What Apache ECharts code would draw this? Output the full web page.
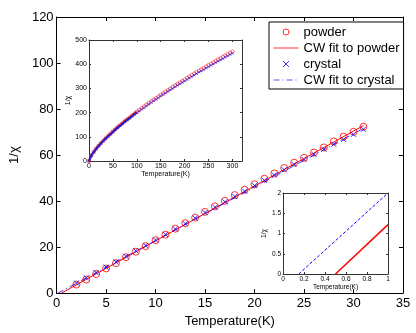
<!DOCTYPE html>
<html>
<head>
<meta charset="utf-8">
<script src="https://cdn.jsdelivr.net/npm/echarts@6/dist/echarts.min.js"></script>
<style>
html,body{margin:0;padding:0;background:#fff;}
#c{width:416px;height:333px;}
</style>
</head>
<body>
<div id="c"></div>
<script>
// ---- data ----
const mainT = [2,3,4,5,6,7,8,9,10,11,12,13,14,15,16,17,18,19,20,21,22,23,24,25,26,27,28,29,30,31];
const powderMain = [3.7,5.9,8.3,10.7,13.0,15.6,18.0,20.4,23.0,25.4,28.0,30.4,32.8,35.3,37.7,40.1,42.6,44.9,47.3,49.7,52.0,54.4,56.7,58.8,61.1,63.3,65.9,68.0,70.1,72.3];
const crystalMain = [4.4,6.6,8.9,11.3,13.6,16.0,18.4,20.7,23.1,25.5,27.9,30.2,32.6,35.0,37.3,39.7,42.0,44.3,46.7,49.0,51.3,53.6,55.9,58.1,60.3,62.5,64.7,66.8,69.0,71.2];
const fitPowderT = [0.5, 31];
const fitPowderY = [0, 72.8];
const fitCrystalT = [0.15, 31];
const fitCrystalY = [0, 71.6];

const insetT = [0,5,10,15,20,25,30,35,40,45,50,55,60,65,70,75,80,85,90,95,100,105,110,115,120,125,130,135,140,145,150,155,160,165,170,175,180,185,190,195,200,205,210,215,220,225,230,235,240,245,250,255,260,265,270,275,280,285,290,295,300];
const insetPowder = [0,23,38,51,63,74,84,94,104,113,122,131,140,148,156,165,172,180,188,196,203,210,218,225,232,239,246,253,259,266,273,279,286,292,299,305,312,318,324,330,336,343,349,355,361,367,373,378,384,390,396,402,407,413,419,424,430,436,441,447,452];
const insetCrystal = [0,23,37,50,62,73,83,93,102,111,120,129,138,146,154,162,170,177,185,193,200,207,214,221,228,235,242,249,255,262,269,275,281,288,294,300,307,313,319,325,331,337,343,349,355,361,367,372,378,384,390,395,401,407,412,418,423,429,434,440,445];
const insetLineCount = 21; // points 0..100 K drawn with a joined line

const zoomPowderT = [0.5, 1];
const zoomPowderY = [0, 1.22];
const zoomCrystalT = [0.15, 1];
const zoomCrystalY = [0, 2];

const legendNames = ['powder','CW fit to powder','crystal','CW fit to crystal'];
const xLabel = 'Temperature(K)';
const yLabel = '1/\u03C7';

// ---- helpers ----
const zip = (a,b) => a.map((v,i)=>[v,b[i]]);
const FONT = 'Liberation Sans, Arial, Helvetica, sans-serif';
const X_SYM = 'path://M0 0L10 10M10 0L0 10';

function axisPair(kind, gridIndex, min, max, interval, fontSize, tickLen, nameText, nameGap, lineColor, labelMargin, showMax) {
  const common = {
    type: 'value', gridIndex, min, max, interval,
    splitLine: {show:false},
    axisLine: {show:true, onZero:false, lineStyle:{color:lineColor, width:1}},
    axisTick: {show:true, inside:true, length:tickLen, lineStyle:{color:lineColor}},
  };
  const main = Object.assign({}, common, {
    position: kind==='x' ? 'bottom' : 'left',
    axisLabel: {show:true, fontSize, color:'#000', fontFamily:FONT, margin:labelMargin, showMaxLabel: showMax},
    name: nameText, nameLocation:'middle', nameGap,
    nameTextStyle: {fontSize: fontSize, color:'#000', fontFamily:FONT}
  });
  const other = Object.assign({}, common, {
    position: kind==='x' ? 'top' : 'right',
    axisLabel: {show:false}
  });
  return [main, other];
}

const mx = axisPair('x', 0, 0, 35, 5, 13, 4, xLabel, 18, '#000', 4, true);
const my = axisPair('y', 0, 0, 120, 20, 13, 4, yLabel, 28, '#000', 3, true);
const ix = axisPair('x', 1, 0, 320, 50, 7, 2, xLabel, 8, '#333', 2, false);
const iy = axisPair('y', 1, 0, 500, 100, 7, 2, yLabel, 14, '#333', 2, true);
const zx = axisPair('x', 2, 0, 1, 0.2, 6.5, 2, xLabel, 7, '#333', 2, true);
const zy = axisPair('y', 2, 0, 2, 0.5, 6.5, 2, yLabel, 11, '#333', 2, true);
ix[0].nameTextStyle.fontSize = 7;
zx[0].nameTextStyle.fontSize = 6.5;

const option = {
  animation: false,
  backgroundColor: '#fff',
  textStyle: {fontFamily: FONT},
  grid: [
    {left:50, right:13, top:17, bottom:36},
    {left:89, top:40, width:153, height:121, show:true, backgroundColor:'#fff', borderWidth:0},
    {left:283, top:193, width:105, height:81, show:true, backgroundColor:'#fff', borderWidth:0}
  ],
  xAxis: [mx[0], mx[1], ix[0], ix[1], zx[0], zx[1]],
  yAxis: [my[0], my[1], iy[0], iy[1], zy[0], zy[1]],
  legend: {
    data: [
      {name: legendNames[0], itemStyle:{color:'transparent', borderColor:'#ff0000', borderWidth:1}},
      {name: legendNames[1], itemStyle:{color:'transparent', borderWidth:0, opacity:0},
        lineStyle:{color:'#ff3333', width:1, type:'solid'}},
      {name: legendNames[2], itemStyle:{color:'none', borderColor:'#0000ff', borderWidth:1}},
      {name: legendNames[3], itemStyle:{color:'transparent', borderWidth:0, opacity:0},
        lineStyle:{color:'#5555ff', width:1, type:[6,3,1,3]}}
    ],
    orient: 'vertical',
    left: 269, top: 22,
    backgroundColor: '#fff',
    borderColor: '#000', borderWidth: 1,
    padding: [3, 4, 2, 4],
    itemGap: 2,
    itemWidth: 25, itemHeight: 6,
    textStyle: {fontSize: 13, color:'#000', fontFamily: FONT, lineHeight: 14},
    selectedMode: false
  },
  series: [
    {
      name: legendNames[0], type:'scatter', xAxisIndex:0, yAxisIndex:0,
      data: zip(mainT, powderMain), symbol:'circle', symbolSize:7,
      itemStyle:{color:'transparent', borderColor:'#ff0000', borderWidth:1}, z:3
    },
    {
      name: legendNames[1], type:'line', xAxisIndex:0, yAxisIndex:0,
      data: zip(fitPowderT, fitPowderY), symbol:'none',
      lineStyle:{color:'#ff0000', width:1}, itemStyle:{color:'#ff0000'}
    },
    {
      name: legendNames[2], type:'scatter', xAxisIndex:0, yAxisIndex:0,
      data: zip(mainT, crystalMain), symbol:X_SYM, symbolSize:5,
      itemStyle:{color:'none', borderColor:'#0000ff', borderWidth:1}, z:4
    },
    {
      name: legendNames[3], type:'line', xAxisIndex:0, yAxisIndex:0,
      data: zip(fitCrystalT, fitCrystalY), symbol:'none',
      lineStyle:{color:'#3333ff', width:1, type:[6,3,1,3]}, itemStyle:{color:'#0000ff'}
    },
    // inset 1
    {
      name:'inset powder', type:'scatter', xAxisIndex:2, yAxisIndex:2,
      data: zip(insetT, insetPowder), symbol:'circle', symbolSize:3.5,
      itemStyle:{color:'transparent', borderColor:'#ff3333', borderWidth:0.8}
    },
    {
      name:'inset crystal', type:'scatter', xAxisIndex:2, yAxisIndex:2,
      data: zip(insetT, insetCrystal), symbol:X_SYM, symbolSize:2.5,
      itemStyle:{color:'none', borderColor:'#0000ff', borderWidth:0.8}
    },
    {
      name:'inset powder line', type:'line', xAxisIndex:2, yAxisIndex:2,
      data: zip(insetT.slice(0,insetLineCount), insetPowder.slice(0,insetLineCount)), symbol:'none',
      lineStyle:{color:'#ff0000', width:2}
    },
    {
      name:'inset crystal line', type:'line', xAxisIndex:2, yAxisIndex:2,
      data: zip(insetT.slice(0,insetLineCount), insetCrystal.slice(0,insetLineCount)), symbol:'none',
      lineStyle:{color:'#2020cc', width:2}
    },
    // inset 2
    {
      name:'zoom powder fit', type:'line', xAxisIndex:4, yAxisIndex:4,
      data: zip(zoomPowderT, zoomPowderY), symbol:'none',
      lineStyle:{color:'#ff0000', width:1.5}
    },
    {
      name:'zoom crystal fit', type:'line', xAxisIndex:4, yAxisIndex:4,
      data: zip(zoomCrystalT, zoomCrystalY), symbol:'none',
      lineStyle:{color:'#0000ff', width:1, type:[3,2]}
    }
  ]
};

const chart = echarts.init(document.getElementById('c'), null, {renderer:'canvas'});
chart.setOption(option);
</script>
</body>
</html>
